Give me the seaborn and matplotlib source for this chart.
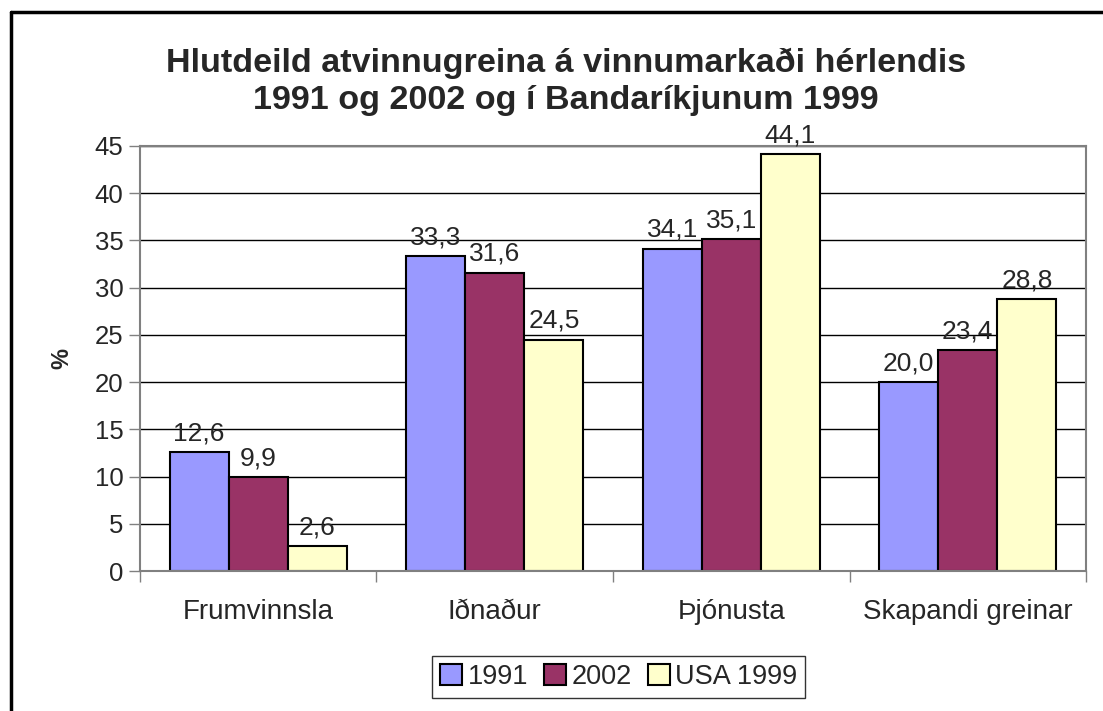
import pandas as pd
import numpy as np
import seaborn as sns
import matplotlib.pyplot as plt
from matplotlib.lines import Line2D
from matplotlib.patches import Patch

# --- data ---
categories = ['Frumvinnsla', 'Iðnaður', 'Þjónusta', 'Skapandi greinar']
series = ['1991', '2002', 'USA 1999']
values_1991 = [12.6, 33.3, 34.1, 20.0]
values_2002 = [9.9, 31.6, 35.1, 23.4]
values_usa = [2.6, 24.5, 44.1, 28.8]
colors = ['#9999FF', '#993366', '#FFFFCC']

data = pd.DataFrame({
    'Grein': categories * 3,
    'Hlutfall': values_1991 + values_2002 + values_usa,
    'Ár': [series[0]] * 4 + [series[1]] * 4 + [series[2]] * 4,
})

sns.set_style('white')
plt.rcParams['font.family'] = ['Liberation Sans', 'DejaVu Sans']

fig = plt.figure(figsize=(11.03, 7.11), dpi=100)
ax = fig.add_axes([0.1269, 0.1969, 0.8577, 0.5978])

sns.barplot(data=data, x='Grein', y='Hlutfall', hue='Ár', palette=colors,
            width=0.75, gap=0, edgecolor='black', linewidth=1.5,
            saturation=1, legend=False, ax=ax)

# data labels with decimal comma
for cont in ax.containers:
    ax.bar_label(cont, labels=[f'{v:.1f}'.replace('.', ',') for v in cont.datavalues],
                 padding=5, fontsize=19)

ax.set_xlim(-0.5, 3.5)
ax.set_ylim(0, 45)
ax.set_yticks(range(0, 46, 5))
ax.yaxis.grid(True, color='black', linewidth=1)
ax.set_axisbelow(True)
ax.tick_params(axis='y', labelsize=18.5, length=8, width=1, color='#808080', pad=4,
               direction='out', left=True)
ax.tick_params(axis='x', which='major', labelsize=20, length=0, pad=20)
ax.set_xticks(np.arange(-0.5, 4, 1), minor=True)
ax.tick_params(axis='x', which='minor', length=8, width=1, color='#808080',
               direction='out', bottom=True)
for s in ax.spines.values():
    s.set_color('#808080')
    s.set_linewidth(1.5)

ax.set_xlabel('')
ax.set_ylabel('%', fontsize=17, fontweight='bold', labelpad=15)

fig.text(0.513, 0.885, 'Hlutdeild atvinnugreina á vinnumarkaði hérlendis\n'
         '1991 og 2002 og í Bandaríkjunum 1999',
         ha='center', va='center', fontsize=24.6, fontweight='bold', linespacing=1.28)

handles = [Patch(facecolor=c, edgecolor='black', linewidth=1.5) for c in colors]
leg = fig.legend(handles, series, loc='center', bbox_to_anchor=(0.561, 0.048),
                 ncol=3, fontsize=19.5, frameon=True, fancybox=False,
                 edgecolor='black', handlelength=0.8, handleheight=0.8,
                 handletextpad=0.2, columnspacing=0.6, borderpad=0.3)
leg.get_frame().set_linewidth(1)

# outer chart border (top and left only visible)
fig.add_artist(Line2D([11 / 1103, 1], [1 - 12 / 711, 1 - 12 / 711],
                      color='black', linewidth=2.5, transform=fig.transFigure))
fig.add_artist(Line2D([11 / 1103, 11 / 1103], [0, 1 - 12 / 711],
                      color='black', linewidth=2.5, transform=fig.transFigure))

fig.savefig('out.png', dpi=100)
